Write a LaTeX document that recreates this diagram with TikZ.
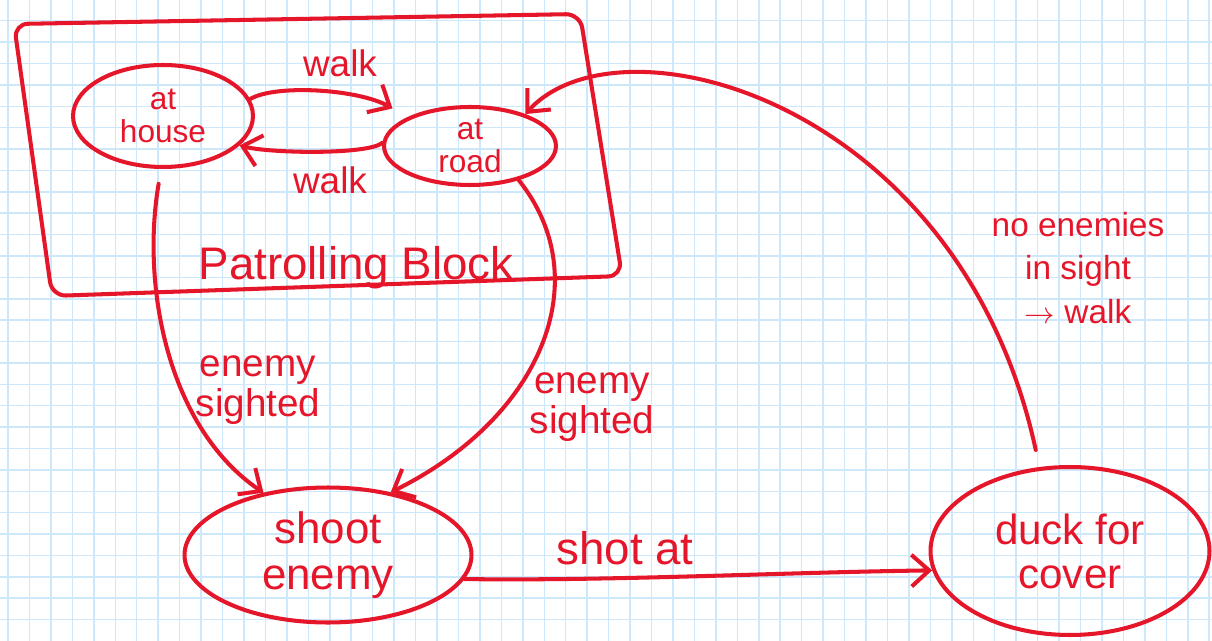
\documentclass[tikz,border=0pt]{standalone}
\usepackage{fontspec}
\setmainfont{Liberation Sans}
\usetikzlibrary{shapes.geometric,arrows.meta}
\definecolor{penred}{RGB}{230,22,42}
\definecolor{gridblue}{RGB}{205,232,250}
\tikzset{
  gridline/.style={draw=gridblue, line width=0.85pt},
  state/.style={ellipse, draw=penred, line width=2.3pt, inner sep=-2pt, align=center, text=penred},
  trans/.style={draw=penred, line width=2.3pt, line cap=round, line join=round,
    -{Straight Barb[length=10pt,width=18pt]}},
  lbl/.style={text=penred, align=center, inner sep=0pt},
}
\begin{document}
\begin{tikzpicture}  % ------ Patrol state machine on squared paper --------------
      [x=0.02cm, y=-0.02cm]

    \fill[white] (0,0) rectangle (1212,641);
    \useasboundingbox (0,0) rectangle (1212,641);
    \foreach \gx in {0,...,56} \draw[gridline] ({8+21.45*\gx},0) -- ({8+21.45*\gx},641);
    \foreach \gy in {0,...,28} \draw[gridline] (0,{20.7+21.39*\gy}) -- (1212,{20.7+21.39*\gy});

    \coordinate (B1) at (14,24);
    \coordinate (B2) at (580,14);
    \coordinate (B3) at (622,276);
    \coordinate (B4) at (52,296);

    \draw[draw=penred, line width=2.3pt, line cap=round, rounded corners=8pt] (B1) -- (B2) -- (B3) -- (B4) -- cycle ;
    \node[lbl, font=\fontsize{26}{30}\selectfont] (blocklbl) at (356,268) {Patrolling Block} ;

    \node[state, minimum width=3.6cm, minimum height=2.04cm, font=\fontsize{18}{19}\selectfont] (house) at (163,116) {at\\house} ;
    \node[state, minimum width=3.44cm, minimum height=1.56cm, font=\fontsize{18}{18.5}\selectfont] (road) at (470,146) {at\\road} ;
    \node[state, minimum width=5.74cm, minimum height=2.7cm, font=\fontsize{25}{26}\selectfont] (shoot) at (328,555) {shoot\\enemy} ;
    \node[state, minimum width=5.58cm, minimum height=3.36cm, font=\fontsize{24}{25}\selectfont] (duck) at (1070,551) {duck for\\cover} ;

    \draw[trans, shorten >=0.35cm] (house.11) .. controls +(25,-15) and +(-50,-28) .. (road.155) ;
    \draw[trans] (road.178) .. controls +(-15,12) and +(30,8) .. (house.-21) ;
    \draw[trans, shorten <=0.3cm] (house.-92) .. controls +(-20,117) and +(-96,-65) .. (shoot.136) ;
    \draw[trans] (road.-35) .. controls +(80,100) and +(150,-74) .. (shoot.45) ;
    \draw[trans] (shoot.-10) .. controls +(150,2) and +(-150,2) .. (duck.188) ;
    \draw[trans, shorten <=0.35cm] (duck.110) .. controls (960,100) and (620,10) .. (road.30) ;

    \node[lbl, font=\fontsize{21}{24}\selectfont] (walkA) at (340,63) {walk} ;
    \node[lbl, font=\fontsize{21}{24}\selectfont] (walkB) at (330,180) {walk} ;
    \node[lbl, font=\fontsize{22}{23}\selectfont] (sightA) at (258,390) {enemy\\sighted} ;
    \node[lbl, font=\fontsize{22}{23}\selectfont] (sightB) at (592,407) {enemy\\sighted} ;
    \node[lbl, font=\fontsize{26}{30}\selectfont] (shotlbl) at (625,548) {shot at} ;
    \node[lbl, font=\fontsize{19}{25}\selectfont] (clearlbl) at (1078,268) {no enemies\\in sight\\$\rightarrow$ walk} ;
\end{tikzpicture}
\end{document}
